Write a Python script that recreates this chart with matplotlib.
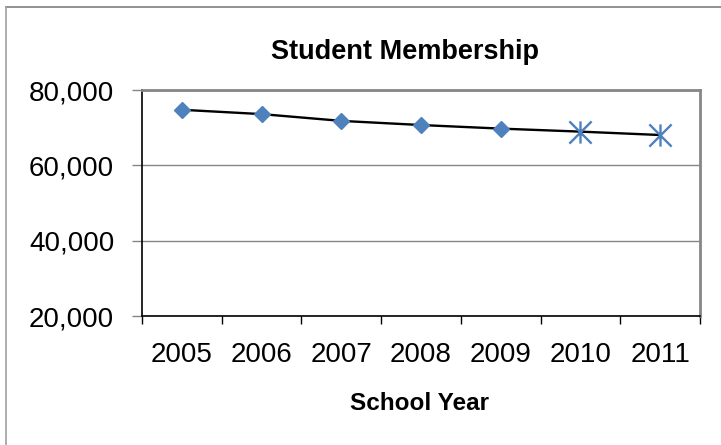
import numpy as np
import matplotlib
matplotlib.use("Agg")
import matplotlib.pyplot as plt
from matplotlib.path import Path
from matplotlib.lines import Line2D
from matplotlib.ticker import FuncFormatter

plt.rcParams['font.family'] = ['Liberation Sans', 'DejaVu Sans']

# Data
years = ['2005', '2006', '2007', '2008', '2009', '2010', '2011']
membership = [74750, 73600, 71800, 70700, 69750, 68950, 68050]
# first five points are diamonds, last two are asterisks
n_diamond = 5

y_ticks = [20000, 40000, 60000, 80000]

BLUE = '#4F81BD'
GRAY = '#868686'

# asterisk marker: an X plus a vertical bar
star = Path([(0, -1), (0, 1), (-1, -1), (1, 1), (-1, 1), (1, -1)],
            [Path.MOVETO, Path.LINETO, Path.MOVETO, Path.LINETO,
             Path.MOVETO, Path.LINETO])

fig = plt.figure(figsize=(7.21, 4.45), dpi=100)
ax = fig.add_axes([142 / 721, 1 - 316 / 445, (700 - 142) / 721, (316 - 90) / 445])

x = np.arange(len(years))
ax.plot(x, membership, color='black', linewidth=1.7, zorder=3)
ax.plot(x[:n_diamond], membership[:n_diamond], linestyle='none', marker='D',
        markersize=8.3, color=BLUE, markeredgecolor=BLUE, zorder=4)
ax.plot(x[n_diamond:], membership[n_diamond:], linestyle='none', marker=star,
        markersize=16, markerfacecolor='none', markeredgecolor=BLUE,
        markeredgewidth=1.7, zorder=4)

ax.set_ylim(20000, 80000)
ax.set_yticks(y_ticks)
ax.yaxis.set_major_formatter(FuncFormatter(lambda v, p: f'{int(v):,}'))
ax.grid(axis='y', color=GRAY, linewidth=1.0)
ax.set_axisbelow(True)

ax.set_xlim(-0.5, len(years) - 0.5)
ax.set_xticks(np.arange(len(years) + 1) - 0.5)
ax.set_xticklabels([])
ax.set_xticks(x, minor=True)
ax.set_xticklabels(years, minor=True)
ax.tick_params(axis='x', which='major', length=6, width=1, color='black')
ax.tick_params(axis='x', which='minor', length=0, pad=19, labelsize=20)
ax.tick_params(axis='y', length=7, width=1, color=GRAY, pad=13, labelsize=20)

for side in ['top', 'right']:
    ax.spines[side].set_color(GRAY)
    ax.spines[side].set_linewidth(2)
for side in ['left', 'bottom']:
    ax.spines[side].set_color('black')
    ax.spines[side].set_linewidth(1.2)

fig.text(405 / 721, 1 - 52 / 445, 'Student Membership', ha='center', va='center',
         fontsize=19.5, fontweight='bold')
fig.text(420 / 721, 1 - 404 / 445, 'School Year', ha='center', va='center',
         fontsize=17.5, fontweight='bold')

# outer chart frame (only top and left edges show in the crop)
fig.add_artist(Line2D([6 / 721, 1], [1 - 7 / 445, 1 - 7 / 445],
                      color='#7f7f7f', linewidth=1.2, transform=fig.transFigure))
fig.add_artist(Line2D([6 / 721, 6 / 721], [0, 1 - 7 / 445],
                      color='#a0a0a0', linewidth=1.2, transform=fig.transFigure))

fig.savefig('out.png', dpi=100)
